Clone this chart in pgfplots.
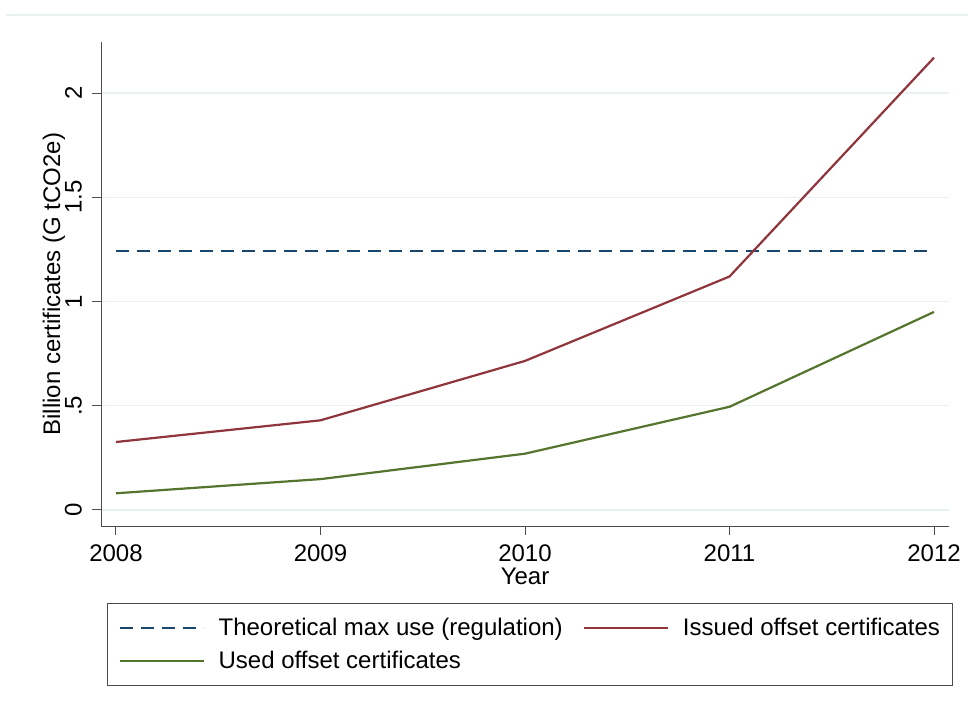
\documentclass[border=0pt]{standalone}
\usepackage{fontspec}
\setmainfont{Liberation Sans}
\usepackage{pgfplots}
\pgfplotsset{compat=1.18}
\definecolor{snavy}{RGB}{26,71,111}
\definecolor{smaroon}{RGB}{144,53,59}
\definecolor{sgreen}{RGB}{85,117,47}
\definecolor{sgrid}{RGB}{232,240,242}
\newcommand{\bigf}{\fontsize{24}{28}\selectfont}
\begin{document}
\begin{tikzpicture}
\useasboundingbox (0pt,0pt) rectangle (968pt,-709pt);
\fill[white] (0pt,0pt) rectangle (968pt,-709pt);
\draw[sgrid, line width=1.5pt] (6pt,-15pt) -- (968pt,-15pt);
\begin{axis}[
  at={(101pt,-526pt)}, anchor=south west,
  width=848pt, height=484pt, scale only axis,
  xmin=2007.9267, xmax=2012.0733, ymin=-0.077, ymax=2.245,
  axis x line*=bottom, axis y line*=left,
  axis line style={black!70, line width=1pt, -},
  tick align=outside, tick pos=left,
  major tick length=9pt,
  every tick/.style={black!70, line width=1pt},
  xtick={2008,2009,2010,2011,2012},
  xticklabels={2008,2009,2010,2011,2012},
  ytick={0,0.5,1,1.5,2},
  yticklabels={0,.5,1,1.5,2},
  tick label style={font=\bigf},
  yticklabel style={rotate=90, anchor=south, inner sep=0pt},
  xticklabel style={anchor=north, inner sep=0pt},
  yticklabel shift=10pt,
  xticklabel shift=10pt,
  ymajorgrids, grid style={sgrid, line width=1.5pt},
  xlabel={Year},
  ylabel={Billion certificates (G tCO2e)},
  label style={font=\bigf},
  xlabel style={at={(axis description cs:0.5,-0.105)}, anchor=center},
  ylabel style={at={(axis description cs:-0.0554,0.5)}, anchor=center},
  legend columns=2,
  legend cell align=left,
  legend image code/.code={\draw[#1] (0pt,0pt) -- (84pt,0pt);},
  legend style={at={(0.007,-0.159)}, anchor=north west,
    draw=black!70, line width=1pt, fill=white, font=\bigf,
    inner xsep=11pt, inner ysep=14pt, row sep=12pt,
    nodes={inner sep=1pt},
    /tikz/every odd column/.append style={column sep=13pt},
    /tikz/every even column/.append style={column sep=19pt}},
]
\addplot[snavy, line width=2.2pt, dash pattern=on 13pt off 8pt] coordinates {(2008,1.242) (2012,1.242)};
\addlegendentry{Theoretical max use (regulation)}
\addplot[smaroon, line width=2.2pt] coordinates {(2008,0.326) (2009,0.43) (2010,0.715) (2011,1.12) (2012,2.17)};
\addlegendentry{Issued offset certificates}
\addplot[sgreen, line width=2.2pt] coordinates {(2008,0.08) (2009,0.148) (2010,0.27) (2011,0.495) (2012,0.95)};
\addlegendentry{Used offset certificates}
\end{axis}
\end{tikzpicture}
\end{document}
